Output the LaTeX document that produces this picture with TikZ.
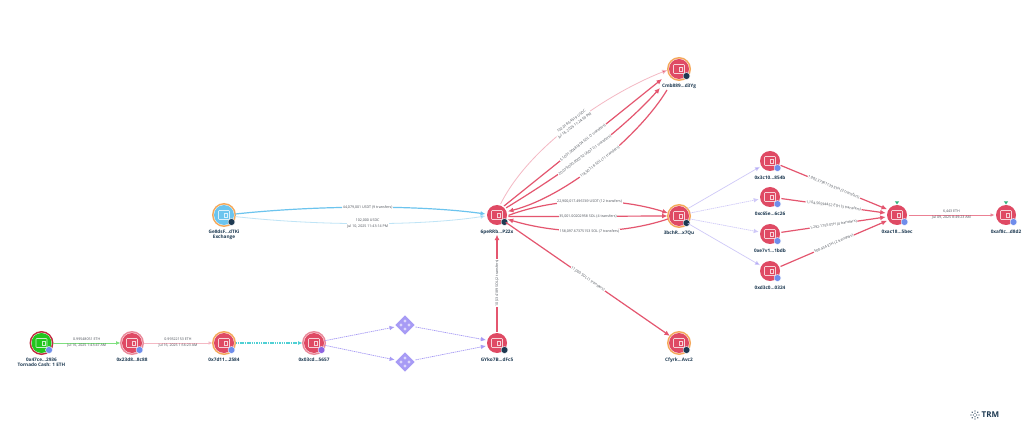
\documentclass[tikz,border=0pt]{standalone}
\usepackage{fontspec}
\setmainfont{Open Sans}
\usetikzlibrary{arrows.meta,shapes.geometric}
\definecolor{wred}{HTML}{DF4A64}
\definecolor{wring}{HTML}{F5A85A}
\definecolor{edgered}{HTML}{E4566F}
\definecolor{palered}{HTML}{F4B9C4}
\definecolor{sky}{HTML}{6CC4EE}
\definecolor{palesky}{HTML}{BFE4F6}
\definecolor{purp}{HTML}{A79BF5}
\definecolor{palepurp}{HTML}{CFC9F8}
\definecolor{bblue}{HTML}{6F8DEB}
\definecolor{bdark}{HTML}{1E3A52}
\definecolor{bpurp}{HTML}{8E63E0}
\definecolor{tgreen}{HTML}{2DB37A}
\definecolor{txt}{HTML}{4A4F57}
\definecolor{tealline}{HTML}{4FD0D4}
\definecolor{tealhead}{HTML}{1F9E9E}
\definecolor{greenline}{HTML}{7FE07F}
\definecolor{greenhead}{HTML}{3CC23C}
\definecolor{torgreen}{HTML}{22C51E}
\definecolor{torring}{HTML}{C02A40}
\tikzset{
  x=1pt,y=-1pt,
  walletcore/.style={circle,fill=wred,minimum size=20pt,inner sep=0pt,outer sep=1.5pt},
  nlabel/.style={font=\fontsize{4.7}{5.6}\selectfont\bfseries,text=bdark,align=center,inner sep=0pt},
  elabel/.style={font=\fontsize{3.6}{4.5}\selectfont,text=txt,fill=white,align=center,inner sep=.6pt},
  badge/.style={circle,minimum size=7pt,inner sep=0pt,draw=white,line width=.4pt},
  dia/.style={diamond,fill=purp,minimum size=21pt,inner sep=0pt,outer sep=2pt},
  diadot/.style={circle,fill=white!60!purp,minimum size=3.2pt,inner sep=0pt},
  redge/.style={draw=edgered,line width=1.2pt,-{Latex[length=5.5pt,width=5pt]}},
  paleedge/.style={draw=palered,line width=.8pt,-{Latex[length=5.5pt,width=5pt,fill=edgered]}},
  thinred/.style={draw=edgered!75,line width=.7pt,-{Latex[length=4pt,width=3.5pt]}},
  skyedge/.style={draw=sky,line width=1.2pt,-{Latex[length=5pt,width=4.5pt]}},
  paleskyedge/.style={draw=palesky,line width=.8pt,-{Latex[length=5pt,width=4.5pt,fill=sky]}},
  purpedge/.style={draw=purp,line width=.7pt,dash pattern=on 1.4pt off .7pt,-{Latex[length=5pt,width=4.5pt]}},
  palepurpedge/.style={draw=palepurp,line width=.7pt,-{Latex[length=5pt,width=4.5pt,fill=purp]}},
  greenedge/.style={draw=greenline,line width=.9pt,-{Latex[length=4.5pt,width=4pt,fill=greenhead]}},
  tealedge/.style={draw=tealline,line width=1.1pt,dash pattern=on 1.5pt off .8pt,-{Latex[length=4.5pt,width=4pt,fill=tealhead]}},
}
% name, x, y, core colour, ring colour, badge colour, label
\newcommand{\walletnode}[7]{%
  \fill[#5] (#2,#3) circle (12);
  \fill[white] (#2,#3) circle (10.4);
  \node[walletcore,fill=#4] (#1) at (#2,#3) {};
  \draw[white!75!#4,line width=.6pt,rounded corners=.8pt] ([shift={(-5.5,-4.5)}]#1.center) rectangle ([shift={(5.5,4.5)}]#1.center);
  \draw[white!75!#4,line width=.5pt] ([shift={(.5,-2)}]#1.center) rectangle ([shift={(3.5,2)}]#1.center);
  \node[badge,fill=#6] (#1b) at ([shift={(7.5,7)}]#1.center) {};
  \node[nlabel,anchor=north] (#1l) at ([yshift=-14.5pt]#1.center) {#7};
}
\newcommand{\diamondnode}[3]{%
  \node[dia] (#1) at (#2,#3) {};
  \node[diadot] (#1a) at ([shift={(0,-4)}]#1.center) {};
  \node[diadot] (#1c) at ([shift={(-4,0)}]#1.center) {};
  \node[diadot] (#1d) at ([shift={(4,0)}]#1.center) {};
  \node[diadot] (#1e) at ([shift={(0,4)}]#1.center) {};
}
\begin{document}
\begin{tikzpicture}
\useasboundingbox[fill=white] (0,0) rectangle (1024,430);

\walletnode{tor}{41.5}{343}{torgreen}{torring}{bblue}{0x47ce...2936\\Tornado Cash: 1 ETH}
\walletnode{b}{132}{343}{wred}{wred!65}{bblue}{0x23d8...8c88}
\walletnode{c}{224}{343}{wred}{wring}{bblue}{0x7d11...2584}
\walletnode{d}{314}{343}{wred}{wred!65}{bpurp}{0x03cd...5657}
\walletnode{g}{497}{343}{wred}{white}{bdark}{GYko7B...dFc5}
\walletnode{p}{497}{215}{wred}{white}{bdark}{6peRRb...P22x}
\walletnode{e}{224}{215}{sky}{wring}{bdark}{Ge8dsF...dTKi\\Exchange}
\walletnode{cmb}{679}{69}{wred}{wring}{bdark}{Cmb889...d3Yg}
\walletnode{bch}{679}{216}{wred}{wring}{bdark}{3bchR...x7Qu}
\walletnode{cfy}{679}{343}{wred}{wring}{bdark}{Cfyrk...Avc2}
\walletnode{wa}{770}{161}{wred}{white}{bblue}{0x3c10...854b}
\walletnode{wb}{770}{197}{wred}{white}{bblue}{0xc65e...6c26}
\walletnode{wc}{770}{234}{wred}{white}{bblue}{0xe7v1...1bdb}
\walletnode{wd}{770}{271}{wred}{white}{bblue}{0xd3c0...0324}
\walletnode{ac}{897}{215}{wred}{white}{bblue}{0xac18...5bec}
\walletnode{fin}{1006}{215}{wred}{white}{bblue}{0xaf8c...d8d2}
\diamondnode{da}{405}{325}
\diamondnode{db}{405}{362}

\node[isosceles triangle,isosceles triangle apex angle=70,shape border rotate=-90,fill=tgreen,minimum size=3pt,inner sep=0pt] (ta) at (897,202.5) {};
\node[isosceles triangle,isosceles triangle apex angle=70,shape border rotate=-90,fill=tgreen,minimum size=3pt,inner sep=0pt] (tb) at (1006,202.5) {};

\coordinate (cmbin2) at (662,79);
\coordinate (cmbin3) at (660,88);
\coordinate (cmbout4) at (667,90);

% bottom chain
\draw[greenedge] (tor) -- node[elabel,fill=none,align=center]{0.99548051 ETH\\[1.5pt]Jul 16, 2025 1:43:47 AM} (b);
\draw[thinred,draw=palered] (b) -- node[elabel,fill=none]{0.99322153 ETH\\[1.5pt]Jul 16, 2025 1:56:23 AM} (c);
\draw[tealedge] (c) -- (d);
\draw[purpedge] (d.12) -- (da);
\draw[purpedge] (d.-12) -- (db);
\draw[purpedge] (da) -- (g.165);
\draw[purpedge] (db) -- (g.195);
\draw[redge] (g) -- node[elabel,sloped]{10,534189 SOL (2 transfers)} (pl.south);

% exchange to hub
\draw[skyedge] (e.5) .. controls (320,205) and (420,205) .. node[elabel,pos=.5]{44,079,001 USDT (9 transfers)} (p.175);
\draw[paleskyedge] (e.-8) .. controls (320,226) and (420,226) .. node[elabel,pos=.5]{102,000 USDC\\[1pt]Jul 10, 2025 11:43:14 PM} (p.185);

% hub to Cmb
\draw[paleedge] (p.72) .. controls (530,145) and (609,93) .. node[elabel,sloped,pos=.5]{102,018.54519 USDC\\[1pt]Jul 18, 2025 11:24:59 PM} (cmb.185);
\draw[redge] (p.52) -- node[elabel,sloped]{51,001.00481804 SOL (7 transfers)} (cmbin2);
\draw[redge] (p.38) .. controls (555,178) and (616,137) .. node[elabel,sloped,pos=.5]{20,079,000.000792 USDT (11 transfers)} (cmbin3);
\draw[redge] (cmbout4) .. controls (640,135) and (568,196) .. node[elabel,sloped,pos=.5]{118,507.18 SOL (11 transfers)} (p.18);

% hub to 3bch
\draw[redge] (p.-2) .. controls (560,196) and (620,198) .. node[elabel,pos=.5]{22,900,017.496749 USDT (12 transfers)} (bch.165);
\draw[redge] (p.-8) -- node[elabel]{35,001.00202958 SOL (4 transfers)} (bch.180);
\draw[redge] (bch.195) .. controls (620,235) and (560,235) .. node[elabel,pos=.5]{158,097.67375153 SOL (7 transfers)} (p.-22);

% hub to Cfyrk
\draw[redge] (p.-40) -- node[elabel,sloped,pos=.5]{11,000 SOL (1 transfers)} (cfy.142);

% 3bch to wallets
\draw[palepurpedge] (bch.40) -- (wa);
\draw[purpedge,draw=palepurp] (bch.15) -- (wb);
\draw[purpedge,draw=palepurp] (bch.-15) -- (wc);
\draw[palepurpedge] (bch.-40) -- (wd);

% wallets to 0xac
\draw[redge] (wa) -- node[elabel,sloped]{1,002.37961139 ETH (3 transfers)} (ac.150);
\draw[redge] (wb) -- node[elabel,sloped]{1,104.56594452 ETH (3 transfers)} (ac.170);
\draw[redge] (wc) -- node[elabel,sloped]{1,292.1755 ETH (4 transfers)} (ac.190);
\draw[redge] (wd) -- node[elabel,sloped]{500.434 ETH (2 transfers)} (ac.210);
\draw[thinred] (ac) -- node[elabel,fill=none]{6,443 ETH\\[1.5pt]Jul 09, 2025 8:49:23 AM} (fin);

% logo
\foreach \a in {0,45,...,315}{\fill[bdark] (975,415) ++(\a:4) circle (.7);}
\foreach \a in {0,90,180,270}{\fill[bdark] (975,415) ++(\a:1.8) circle (.6);}
\node[font=\fontsize{8}{9}\selectfont\bfseries,text=bdark,inner sep=0pt,anchor=west] (logo) at (981.5,415) {TRM};
\end{tikzpicture}
\end{document}
